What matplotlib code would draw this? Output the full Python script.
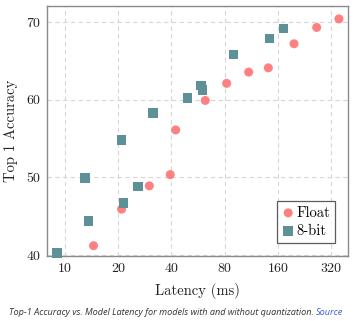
import matplotlib
matplotlib.use("Agg")
import matplotlib.pyplot as plt
from matplotlib.ticker import FixedLocator, FixedFormatter, NullLocator

# Latency (ms) and top-1 accuracy for float models
float_latency = [14.5, 20.9, 30.0, 39.4, 42.3, 62.2, 82.2, 109.5, 141.4, 197.7, 265.6, 355.0]
float_acc = [41.2, 45.9, 48.9, 50.35, 56.1, 59.9, 62.1, 63.55, 64.1, 67.2, 69.3, 70.4]

# Latency (ms) and top-1 accuracy for 8-bit quantized models
int8_latency = [9.0, 13.0, 13.55, 20.9, 21.4, 25.9, 31.5, 49.5, 58.8, 60.1, 89.6, 143.2, 171.9]
int8_acc = [40.25, 49.9, 44.35, 54.8, 46.7, 48.8, 58.3, 60.2, 61.8, 61.25, 65.85, 67.9, 69.2]

x_ticks = [10, 20, 40, 80, 160, 320]
x_ticklabels = ["10", "20", "40", "80", "160", "320"]
y_ticks = [40, 50, 60, 70]
y_ticklabels = ["40", "50", "60", "70"]

plt.rcParams["font.family"] = ["cmr10", "DejaVu Serif"]
plt.rcParams["axes.formatter.use_mathtext"] = True

fig = plt.figure(figsize=(3.61, 3.21), dpi=100)
ax = fig.add_axes([47.3 / 361, 1 - 256 / 321, (348.3 - 47.3) / 361, (256 - 5.7) / 321])

ax.set_xscale("log", base=2)
ax.set_xlim(7.94, 401)
ax.set_ylim(39.87, 72.1)

ax.scatter(float_latency, float_acc, s=42, marker="o", color="#FF8080",
           edgecolors="none", label="Float", zorder=3, clip_on=False)
ax.scatter(int8_latency, int8_acc, s=46, marker="s", color="#5E9098",
           edgecolors="none", label="8-bit", zorder=3, clip_on=False)

ax.xaxis.set_major_locator(FixedLocator(x_ticks))
ax.xaxis.set_major_formatter(FixedFormatter(x_ticklabels))
ax.xaxis.set_minor_locator(NullLocator())
ax.yaxis.set_major_locator(FixedLocator(y_ticks))
ax.yaxis.set_major_formatter(FixedFormatter(y_ticklabels))

ax.grid(True, color="#d6d6d6", linestyle=(0, (4, 3)), linewidth=0.8, zorder=0)
ax.set_axisbelow(True)
ax.tick_params(length=0, labelsize=10, colors="#222222", pad=5)

for sp in ax.spines.values():
    sp.set_color("#8a8a8a")
    sp.set_linewidth(1.0)

ax.set_xlabel("Latency (ms)", fontsize=10.5, color="#222222", labelpad=6)
ax.set_ylabel("Top 1 Accuracy", fontsize=10.5, color="#222222", labelpad=6)

leg = ax.legend(loc="lower right", fontsize=10.5, frameon=True, fancybox=False,
                edgecolor="#333333", handletextpad=0.1, handlelength=0.9,
                borderpad=0.35, labelspacing=0.3, borderaxespad=0.9,
                markerscale=1.0)
leg.get_frame().set_linewidth(0.9)

# Caption underneath the plot
cap_style = dict(fontsize=6.6, style="italic", family="Open Sans", va="center")
t = fig.text(9 / 361, 1 - 312.7 / 321, "Top-1 Accuracy vs. Model Latency for models with and without quantization. ",
             color="#333333", ha="left", **cap_style)
fig.canvas.draw()
bb = t.get_window_extent()
fig.text(bb.x1 / fig.bbox.width, 1 - 312.7 / 321, "Source", color="#3b5bdb", ha="left", **cap_style)

fig.savefig("out.png", dpi=100)
